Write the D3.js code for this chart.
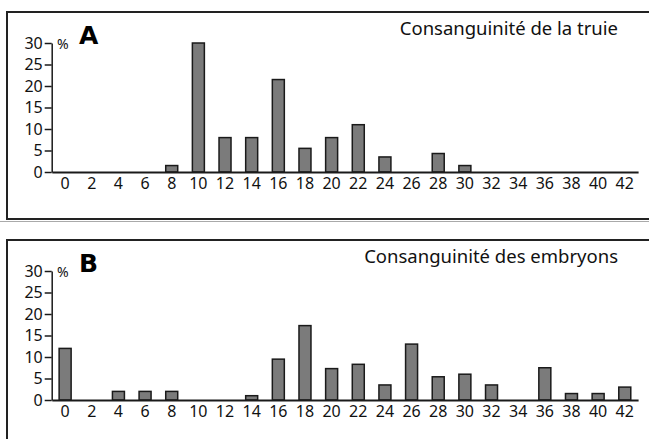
<!DOCTYPE html>
<html>
<head>
<meta charset="utf-8">
<script src="https://cdn.jsdelivr.net/npm/d3@7"></script>
<style>
  body { margin: 0; background: #fff; }
  svg { display: block; }
</style>
</head>
<body>
<svg id="chart" width="649" height="439"></svg>
<script>
// classes de consanguinité (%)
const categories = d3.range(0, 43, 2);
const yTicks = [0, 5, 10, 15, 20, 25, 30];

// A : truie
const truieValues = [0, 0, 0, 0, 1.5, 30, 8, 8, 21.5, 5.5, 8, 11, 3.5, 0, 4.3, 1.5, 0, 0, 0, 0, 0, 0];
// B : embryons
const embryonValues = [12, 0, 2, 2, 2, 0, 0, 1, 9.5, 17.3, 7.3, 8.3, 3.5, 13, 5.4, 6, 3.5, 0, 7.5, 1.5, 1.5, 3];

const svg = d3.select("#chart");
const font = "'Noto Sans', sans-serif";

const renderPanel = (values, letter, title, top) => {
  const data = categories
    .map((c, i) => ({ cat: c, value: values[i] }))
    .filter((d) => d.value > 0);

  const g = svg.append("g").attr("transform", `translate(0,${top})`);

  // cadre
  g.append("rect")
    .attr("x", 7).attr("y", 0)
    .attr("width", 700).attr("height", 207)
    .attr("fill", "none")
    .attr("stroke", "#222")
    .attr("stroke-width", 2);

  const xScale = d3.scaleBand()
    .domain(categories)
    .range([51.8, 638.1])
    .paddingInner(0.55)
    .paddingOuter(0.275);

  const yScale = d3.scaleLinear()
    .domain([0, 30])
    .range([160, 31]);

  // barres
  g.selectAll("rect.bar")
    .data(data)
    .enter()
    .append("rect")
    .attr("class", "bar")
    .attr("x", (d) => xScale(d.cat))
    .attr("width", xScale.bandwidth())
    .attr("y", (d) => yScale(d.value))
    .attr("height", (d) => yScale(0) - yScale(d.value))
    .attr("fill", "#7b7b7b")
    .attr("stroke", "#1a1a1a")
    .attr("stroke-width", 1.5);

  // axe y
  const yAxisG = g.append("g")
    .attr("transform", "translate(51.7,0)")
    .attr("font-family", font)
    .attr("font-size", 16)
    .call(d3.axisLeft(yScale).tickValues(yTicks).tickSize(7).tickSizeOuter(0).tickPadding(2));
  yAxisG.attr("font-family", font).attr("font-size", 16);
  yAxisG.select(".domain").attr("stroke", "#1a1a1a").attr("stroke-width", 1.5);
  yAxisG.selectAll(".tick line").attr("stroke", "#1a1a1a").attr("stroke-width", 1.5);
  yAxisG.selectAll(".tick text").attr("fill", "#111");

  // axe x
  const xAxisG = g.append("g")
    .attr("transform", `translate(0,${yScale(0)})`)
    .call(d3.axisBottom(xScale).tickSize(0).tickSizeOuter(0).tickPadding(6));
  xAxisG.attr("font-family", font).attr("font-size", 16);
  xAxisG.select(".domain").attr("stroke", "#1a1a1a").attr("stroke-width", 2);
  xAxisG.selectAll(".tick text").attr("fill", "#111");

  g.append("text")
    .attr("x", 57).attr("y", 37)
    .attr("font-family", font).attr("font-size", 14).attr("fill", "#111")
    .text("%");

  g.append("text")
    .attr("x", 79).attr("y", 31.5)
    .attr("font-family", "'DejaVu Sans', sans-serif").attr("font-weight", "bold")
    .attr("font-size", 25).attr("fill", "#000")
    .text(letter);

  g.append("text")
    .attr("x", 618).attr("y", 23)
    .attr("text-anchor", "end")
    .attr("font-family", font).attr("font-size", 18.5).attr("fill", "#111")
    .text(title);
};

renderPanel(truieValues, "A", "Consanguinité de la truie", 12);
renderPanel(embryonValues, "B", "Consanguinité des embryons", 240);

// trait gris entre les deux cadres
svg.append("line")
  .attr("x1", 0).attr("x2", 649)
  .attr("y1", 221.5).attr("y2", 221.5)
  .attr("stroke", "#aaa").attr("stroke-width", 1);
</script>
</body>
</html>
